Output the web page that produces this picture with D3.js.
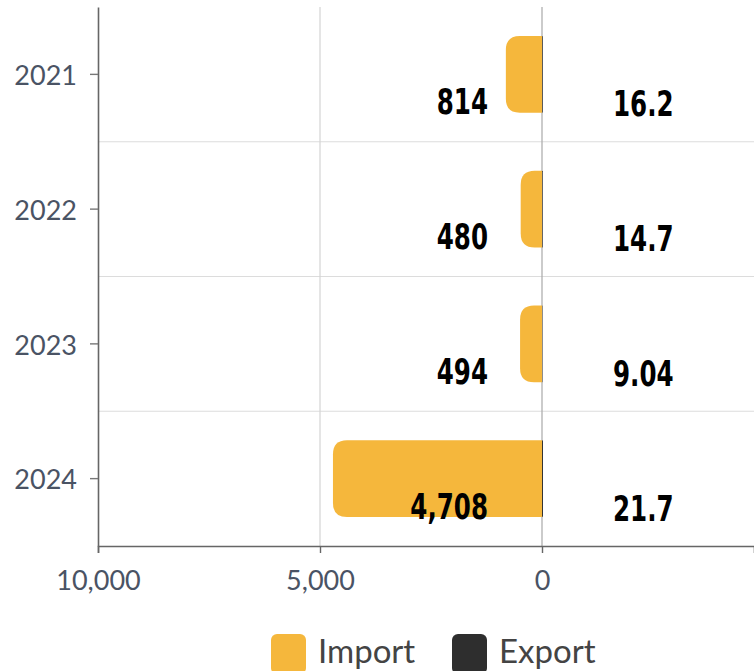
<!DOCTYPE html>
<html>
<head>
    <script src="https://d3js.org/d3.v7.min.js"></script>
    <style>
        html, body { margin: 0; padding: 0; background: #fff; overflow: hidden; }
        svg { display: block; }
    </style>
</head>
<body>
<div id="chart"></div>
<script>
    // chart data
    const years = ["2021", "2022", "2023", "2024"];
    const importValues = [814, 480, 494, 4708];
    const exportValues = [16.2, 14.7, 9.04, 21.7];
    const xTicks = [-10000, -5000, 0];
    const seriesNames = ["Import", "Export"];
    const seriesColors = ["#f5b73c", "#2e2e2e"];

    const width = 754, height = 671;
    const plotLeft = 98, plotRight = 754, plotTop = 7, plotBottom = 546;

    const svg = d3.select("#chart").append("svg")
        .attr("width", width)
        .attr("height", height);

    // import goes to the left (negative), export to the right
    const x = d3.scaleLinear()
        .domain([-10000, 10000 * (plotRight - 542) / 444])
        .range([plotLeft, plotRight]);

    const y = d3.scaleBand()
        .domain(years)
        .range([plotTop, plotBottom])
        .paddingInner(0.43)
        .paddingOuter(0.215);

    const yBand = d3.scaleBand().domain(years).range([plotTop, plotBottom]);

    // horizontal separators between years
    svg.selectAll(".sep")
        .data(years.slice(1))
        .enter().append("line")
        .attr("x1", plotLeft).attr("x2", plotRight)
        .attr("y1", d => yBand(d)).attr("y2", d => yBand(d))
        .attr("stroke", "#dcdcdc").attr("stroke-width", 1.2);

    // vertical gridlines
    svg.selectAll(".vgrid")
        .data(xTicks.filter(d => d > -10000))
        .enter().append("line")
        .attr("x1", d => x(d)).attr("x2", d => x(d))
        .attr("y1", plotTop).attr("y2", plotBottom)
        .attr("stroke", d => d === 0 ? "#a8a8a8" : "#d4d4d4")
        .attr("stroke-width", 1.2);

    // bars with rounded outer corners
    function leftRounded(x0, x1, y0, h, r) {
        r = Math.min(r, (x1 - x0), h / 2);
        return `M${x1},${y0} L${x0 + r},${y0} Q${x0},${y0} ${x0},${y0 + r} ` +
               `L${x0},${y0 + h - r} Q${x0},${y0 + h} ${x0 + r},${y0 + h} L${x1},${y0 + h} Z`;
    }
    function rightRounded(x0, x1, y0, h, r) {
        r = Math.min(r, (x1 - x0), h / 2);
        return `M${x0},${y0} L${x1 - r},${y0} Q${x1},${y0} ${x1},${y0 + r} ` +
               `L${x1},${y0 + h - r} Q${x1},${y0 + h} ${x1 - r},${y0 + h} L${x0},${y0 + h} Z`;
    }

    svg.selectAll(".imp")
        .data(years)
        .enter().append("path")
        .attr("d", (d, i) => leftRounded(x(-importValues[i]), x(0), y(d), y.bandwidth(), 14))
        .attr("fill", seriesColors[0]);

    svg.selectAll(".exp")
        .data(years)
        .enter().append("path")
        .attr("d", (d, i) => rightRounded(x(0), x(exportValues[i]), y(d), y.bandwidth(), 14))
        .attr("fill", seriesColors[1]);

    // value labels (narrow bold look: squeeze condensed font horizontally)
    const fmt = d3.format(",");
    const labelFont = "'DejaVu Sans Condensed', 'DejaVu Sans', sans-serif";
    const squeeze = 0.78;

    svg.selectAll(".impLabel")
        .data(years)
        .enter().append("text")
        .attr("transform", d => `translate(${x(0) - 54},${yBand(d) + yBand.bandwidth() / 2 + 40}) scale(${squeeze},1)`)
        .attr("text-anchor", "end")
        .style("font-family", labelFont)
        .style("font-weight", "bold")
        .style("font-size", "35px")
        .attr("fill", "#000")
        .text((d, i) => fmt(importValues[i]));

    svg.selectAll(".expLabel")
        .data(years)
        .enter().append("text")
        .attr("transform", d => `translate(${x(0) + 71},${yBand(d) + yBand.bandwidth() / 2 + 42}) scale(${squeeze},1)`)
        .attr("text-anchor", "start")
        .style("font-family", labelFont)
        .style("font-weight", "bold")
        .style("font-size", "35px")
        .attr("fill", "#000")
        .text((d, i) => exportValues[i]);

    // axes
    const xAxis = svg.append("g")
        .attr("transform", `translate(0,${plotBottom})`)
        .call(d3.axisBottom(x).tickValues(xTicks).tickSize(7).tickPadding(18)
            .tickFormat(d => fmt(Math.abs(d))));
    xAxis.select(".domain").attr("stroke", "#666").attr("stroke-width", 1.6);
    xAxis.selectAll(".tick line").attr("stroke", "#666").attr("stroke-width", 1.4);
    xAxis.selectAll("text")
        .style("font-family", "Lato, sans-serif")
        .style("font-size", "27px")
        .attr("fill", "#4a5364");

    const yAxis = svg.append("g")
        .attr("transform", `translate(${plotLeft},0)`)
        .call(d3.axisLeft(yBand).tickSize(8).tickPadding(13).tickSizeOuter(0));
    yAxis.select(".domain").attr("stroke", "#666").attr("stroke-width", 1.6);
    yAxis.selectAll(".tick line").attr("stroke", "#777").attr("stroke-width", 1.4);
    yAxis.selectAll("text")
        .attr("dy", "0.4em")
        .style("font-family", "Lato, sans-serif")
        .style("font-size", "27px")
        .attr("fill", "#4a5364");

    // legend
    const legendX = [271, 452];
    const legend = svg.selectAll(".legend")
        .data(seriesNames)
        .enter().append("g")
        .attr("transform", (d, i) => `translate(${legendX[i]},634)`);
    legend.append("rect")
        .attr("width", 35).attr("height", 40)
        .attr("rx", 6)
        .attr("fill", (d, i) => seriesColors[i]);
    legend.append("text")
        .attr("x", 47).attr("y", 29)
        .style("font-family", "Lato, sans-serif")
        .style("font-size", "33px")
        .attr("fill", "#444")
        .text(d => d);
</script>
</body>
</html>
